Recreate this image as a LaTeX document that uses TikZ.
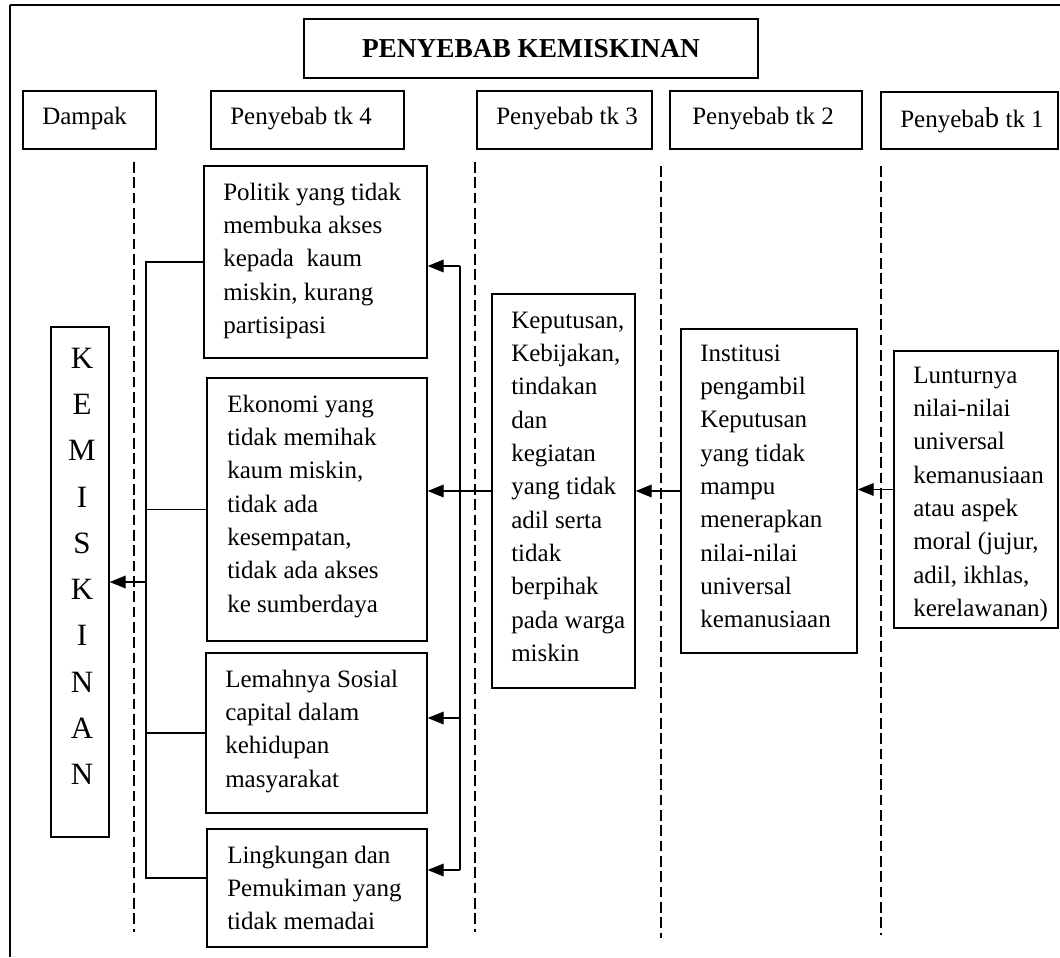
\documentclass[tikz,border=0pt]{standalone}
\usepackage{fontspec}
\setmainfont{Liberation Serif}
\usetikzlibrary{arrows.meta,fit}

% first-line strut: puts the first baseline 34px below the top of a box
\newcommand\firstline{\rule{0pt}{25.5pt}}

\tikzset{
  box/.style={draw, line width=1pt, inner sep=0pt},
  txt/.style={inner sep=0pt, align=left, anchor=north west,
              font=\fontsize{18.75pt}{25pt}\selectfont},
  head/.style={inner sep=0pt, anchor=base west,
               font=\fontsize{18.75pt}{25pt}\selectfont},
  guide/.style={line width=1pt, dash pattern=on 8pt off 3.5pt},
  link/.style={line width=1pt},
  arr/.style={link, -{Triangle[length=12pt,width=9.5pt]}},
}

\begin{document}
\begin{tikzpicture}[x=0.75pt,y=-0.75pt]
\useasboundingbox (0,0) rectangle (1060,957);

% page frame
\draw[line width=1.8pt] (10,5) -- (1060,5);
\draw[line width=1pt] (10,5) -- (10,957);

% title
\node[box, fit={(304,19) (758,78)}] (title) {};
\node[inner sep=0pt, anchor=base, font=\fontsize{20.5pt}{25pt}\selectfont\bfseries]
  (titletext) at (531,57) {PENYEBAB KEMISKINAN};

% column headers
\node[box, fit={(23,91) (156,149)}] (h0) {};
\node[head] (h0text) at (42,124) {Dampak};
\node[box, fit={(211,91) (404,149)}] (h4) {};
\node[head] (h4text) at (230,124) {Penyebab tk 4};
\node[box, fit={(477,91) (652,149)}] (h3) {};
\node[head] (h3text) at (496,124) {Penyebab tk 3};
\node[box, fit={(670,91) (862,149)}] (h2) {};
\node[head] (h2text) at (692,124) {Penyebab tk 2};
\node[box, fit={(881,92) (1058,149)}] (h1) {};
\node[head] (h1text) at (900,127) {Penyeba{\fontsize{21.5pt}{25pt}\selectfont b} tk 1};

% column separators
\draw[guide] (134,162) -- (134,932);
\draw[guide] (475,162) -- (475,932);
\draw[guide] (661,166) -- (661,938);
\draw[guide] (881,166) -- (881,935);

% impact
\node[box, fit={(51,327) (109,837)}] (kem) {};
\node[inner sep=0pt, anchor=north, align=center,
      font=\fontsize{23.25pt}{34.7pt}\selectfont] (kemtext) at (82,327)
  {\rule{0pt}{30.75pt}K\\E\\M\\I\\S\\K\\I\\N\\A\\N};

% level 4 causes
\node[box, fit={(204,166) (427,358)}] (pol) {};
\node[txt] (poltext) at (223,166)
  {\firstline Politik yang tidak\\membuka akses\\kepada~ kaum\\miskin, kurang\\partisipasi};
\node[box, fit={(207,378) (427,641)}] (eko) {};
\node[txt] (ekotext) at (227,378)
  {\firstline Ekonomi yang\\tidak memihak\\kaum miskin,\\tidak ada\\kesempatan,\\tidak ada akses\\ke sumberdaya};
\node[box, fit={(206,653) (427,813)}] (lem) {};
\node[txt] (lemtext) at (225,653)
  {\firstline Lemahnya Sosial\\capital dalam\\kehidupan\\masyarakat};
\node[box, fit={(207,829) (427,947)}] (lin) {};
\node[txt] (lintext) at (227,829)
  {\firstline Lingkungan dan\\Pemukiman yang\\tidak memadai};

% level 3
\node[box, fit={(492,294) (635,688)}] (kep) {};
\node[txt] (keptext) at (511,294)
  {\firstline Keputusan,\\Kebijakan,\\tindakan\\dan\\kegiatan\\yang tidak\\adil serta\\tidak\\berpihak\\pada warga\\miskin};

% level 2
\node[box, fit={(681,329) (857,653)}] (ins) {};
\node[txt] (instext) at (700,327)
  {\firstline Institusi\\pengambil\\Keputusan\\yang tidak\\mampu\\menerapkan\\nilai-nilai\\universal\\kemanusiaan};

% level 1
\node[box, fit={(894,351) (1058,628)}] (lun) {};
\node[txt] (luntext) at (913,349)
  {\firstline Lunturnya\\nilai-nilai\\universal\\kemanusiaan\\atau aspek\\moral (jujur,\\adil, ikhlas,\\kerelawanan)};

% causal chain from right to left
\draw[arr] (lun.west) -- (lun.west -| ins.east);
\draw[arr] (ins.west) -- (ins.west -| kep.east);
\draw[arr] (kep.west) -- (kep.west -| eko.east);

% distribution bus to the level 4 boxes
\coordinate (bt) at (460,266);
\coordinate (bm) at (460,718);
\coordinate (bb) at (460,870);
\draw[link] (bt) -- (bb);
\draw[arr] (bt) -- (bt -| pol.east);
\draw[arr] (bm) -- (bm -| lem.east);
\draw[arr] (bb) -- (bb -| lin.east);

% collecting bracket towards the impact
\coordinate (kt) at (146,262);
\coordinate (kb) at (146,878);
\draw[link] (kt -| pol.west) -- (kt) -- (kb) -- (kb -| lin.west);
\draw[link] (eko.west) -- (eko.west -| kt);
\draw[link] (lem.west) -- (lem.west -| kt);
\draw[arr] (kem.east -| kt) -- (kem.east);

\end{tikzpicture}
\end{document}
